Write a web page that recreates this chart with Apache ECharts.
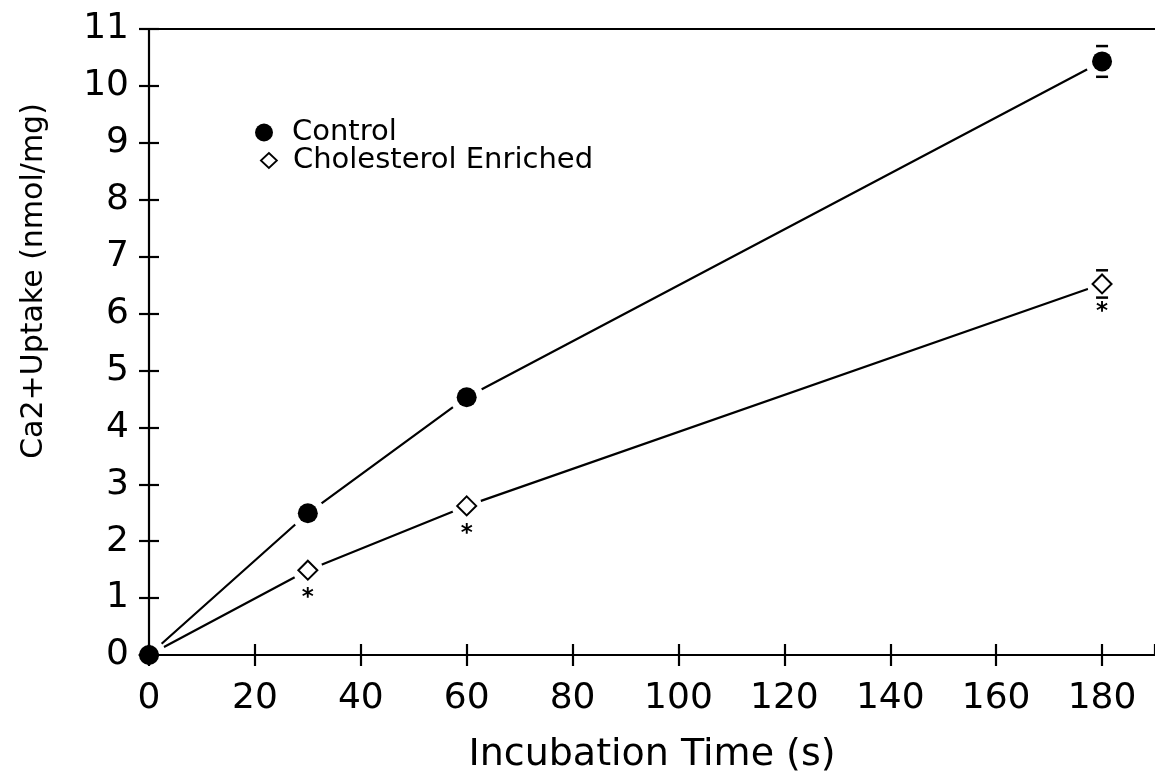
<!DOCTYPE html>
<html>
<head>
<meta charset="utf-8">
<script src="https://cdn.jsdelivr.net/npm/echarts@6/dist/echarts.min.js"></script>
<style>
  html, body { margin: 0; padding: 0; background: #ffffff; }
  #chart { width: 1155px; height: 779px; }
</style>
</head>
<body>
<div id="chart"></div>
<script>
// Incubation times (s)
const times = [0, 30, 60, 180];
// Ca2+ uptake, nmol/mg, with SEM
const controlUptake = [0, 2.49, 4.53, 10.43];
const controlSem = [0, 0, 0, 0.27];
const enrichedUptake = [0, 1.49, 2.62, 6.52];
const enrichedSem = [0, 0, 0, 0.24];
// points marked with * (significant vs control)
const enrichedSignificant = [false, true, true, true];

const seriesNames = ['Control', 'Cholesterol Enriched'];
const xLabel = 'Incubation Time (s)';
const yLabel = 'Ca2+Uptake (nmol/mg)';

const FONT = 'DejaVu Sans';
const pairs = (ys) => times.map((t, i) => [t, ys[i]]);
const errPoints = (ys, es) => times.map((t, i) => [t, ys[i], es[i]]);

// SEM drawn as caps above and below the marker
function errorBar(params, api) {
  const x = api.value(0), y = api.value(1), e = api.value(2);
  if (!e) return null;
  const top = api.coord([x, y + e]);
  const bot = api.coord([x, y - e]);
  const half = 6;
  const cap = { stroke: '#000', lineWidth: 2.5 };
  return {
    type: 'group',
    children: [
      { type: 'line', shape: { x1: top[0] - half, y1: top[1], x2: top[0] + half, y2: top[1] }, style: cap },
      { type: 'line', shape: { x1: bot[0] - half, y1: bot[1], x2: bot[0] + half, y2: bot[1] }, style: cap }
    ]
  };
}

const baseX = {
  type: 'value', min: 0, max: 190, interval: 20, z: 3,
  splitLine: { show: false }
};
const baseY = {
  type: 'value', min: 0, max: 11, interval: 1, z: 3,
  splitLine: { show: false }
};

const option = {
  backgroundColor: '#ffffff',
  animation: false,
  grid: { left: 149, right: -6, top: 29, bottom: 124, containLabel: false },
  legend: [
    {
      left: 255, top: 118, orient: 'vertical', padding: 0,
      itemWidth: 18, itemHeight: 18, selectedMode: false,
      textStyle: { fontFamily: FONT, fontSize: 29, color: '#000', padding: [0, 0, 0, 14] },
      data: [{ name: seriesNames[0], icon: 'circle', itemStyle: { color: '#000', borderWidth: 0 } }]
    },
    {
      left: 260, top: 146, orient: 'vertical', padding: 0,
      itemWidth: 16, itemHeight: 15, selectedMode: false,
      textStyle: { fontFamily: FONT, fontSize: 29, color: '#000', padding: [0, 0, 0, 11] },
      data: [{ name: seriesNames[1], icon: 'diamond', itemStyle: { color: '#fff', borderColor: '#000', borderWidth: 1.8 } }]
    }
  ],
  xAxis: [
    Object.assign({}, baseX, {
      position: 'bottom',
      axisLine: { show: true, onZero: false, lineStyle: { color: '#000', width: 2.2 } },
      axisTick: { show: true, inside: false, length: 11, lineStyle: { color: '#000', width: 2.2 } },
      axisLabel: { show: true, fontFamily: FONT, fontSize: 36, color: '#000', margin: 26, showMaxLabel: false },
      name: xLabel, nameLocation: 'middle', nameGap: 81,
      nameTextStyle: { fontFamily: FONT, fontSize: 38, color: '#000' }
    }),
    Object.assign({}, baseX, {
      position: 'bottom',
      axisLine: { show: false, onZero: false },
      axisTick: { show: true, inside: true, length: 11, lineStyle: { color: '#000', width: 2.2 } },
      axisLabel: { show: false }
    }),
    Object.assign({}, baseX, {
      position: 'top',
      axisLine: { show: true, onZero: false, lineStyle: { color: '#000', width: 2.2 } },
      axisTick: { show: false },
      axisLabel: { show: false }
    })
  ],
  yAxis: [
    Object.assign({}, baseY, {
      position: 'left',
      axisLine: { show: true, onZero: false, lineStyle: { color: '#000', width: 2.2 } },
      axisTick: { show: true, inside: false, length: 10, lineStyle: { color: '#000', width: 2.2 } },
      axisLabel: { show: true, fontFamily: FONT, fontSize: 36, color: '#000', margin: 20 },
      name: yLabel, nameLocation: 'middle', nameGap: 100,
      nameTextStyle: { fontFamily: FONT, fontSize: 30, color: '#000', padding: [0, 0, 0, 122] }
    }),
    Object.assign({}, baseY, {
      position: 'left',
      axisLine: { show: false, onZero: false },
      axisTick: { show: true, inside: true, length: 10, lineStyle: { color: '#000', width: 2.2 } },
      axisLabel: { show: false }
    })
  ],
  series: [
    // connecting lines
    {
      name: seriesNames[0], type: 'line', data: pairs(controlUptake), z: 1, silent: true,
      showSymbol: false, symbol: 'none', lineStyle: { color: '#000', width: 2.2 }
    },
    {
      name: seriesNames[1], type: 'line', data: pairs(enrichedUptake), z: 1, silent: true,
      showSymbol: false, symbol: 'none', lineStyle: { color: '#000', width: 2.2 }
    },
    // white clearance around each marker so the lines stop short of it
    {
      name: seriesNames[0], type: 'scatter', data: pairs(controlUptake), z: 2, silent: true,
      symbol: 'circle', symbolSize: 34, itemStyle: { color: '#fff', opacity: 1 }
    },
    {
      name: seriesNames[1], type: 'scatter', data: pairs(enrichedUptake), z: 2, silent: true,
      symbol: 'circle', symbolSize: 30, itemStyle: { color: '#fff', opacity: 1 }
    },
    // SEM error bars
    {
      name: seriesNames[0], type: 'custom', data: errPoints(controlUptake, controlSem),
      renderItem: errorBar, z: 3, silent: true
    },
    {
      name: seriesNames[1], type: 'custom', data: errPoints(enrichedUptake, enrichedSem),
      renderItem: errorBar, z: 3, silent: true
    },
    // markers
    {
      name: seriesNames[1], type: 'scatter', z: 4,
      data: times.map((t, i) => ({
        value: [t, enrichedUptake[i]],
        label: { show: enrichedSignificant[i] }
      })),
      symbol: 'diamond', symbolSize: 19,
      itemStyle: { color: '#fff', borderColor: '#000', borderWidth: 2, opacity: 1 },
      label: {
        show: false, formatter: '*', position: 'inside', offset: [0, 28],
        fontFamily: FONT, fontSize: 23, fontWeight: 'bold', color: '#000'
      }
    },
    {
      name: seriesNames[0], type: 'scatter', z: 5, data: pairs(controlUptake),
      symbol: 'circle', symbolSize: 20, itemStyle: { color: '#000', opacity: 1 }
    }
  ]
};

const chart = echarts.init(document.getElementById('chart'), null, { renderer: 'canvas' });
chart.setOption(option);
</script>
</body>
</html>
